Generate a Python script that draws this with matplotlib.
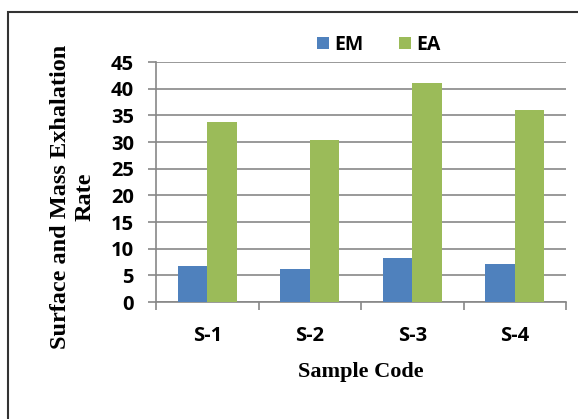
import matplotlib
matplotlib.use('Agg')
import matplotlib.pyplot as plt
import numpy as np
from matplotlib.patches import Rectangle

samples = ['S-1', 'S-2', 'S-3', 'S-4']
em_values = [6.8, 6.25, 8.25, 7.1]
ea_values = [33.75, 30.4, 41.05, 36.0]
y_ticks = [0, 5, 10, 15, 20, 25, 30, 35, 40, 45]

blue = '#4F81BD'
green = '#9BBB59'
grid_gray = '#878787'


def main():
    fig = plt.figure(figsize=(5.78, 4.19), dpi=100)
    ax = fig.add_axes([156 / 578, 117 / 419, 410 / 578, 240 / 419])

    x = np.arange(len(samples))
    w = 0.29
    ax.bar(x - w / 2, em_values, w, color=blue, label='EM', zorder=3)
    ax.bar(x + w / 2, ea_values, w, color=green, label='EA', zorder=3)

    ax.set_xlim(-0.5, len(samples) - 0.5)
    ax.set_ylim(0, 45)
    ax.set_yticks(y_ticks)
    ax.set_xticks(x)
    ax.set_xticklabels(samples)
    ax.set_xticks(np.arange(-0.5, len(samples)), minor=True)

    ax.grid(axis='y', color=grid_gray, linewidth=1.2, zorder=0)
    for s in ['top', 'right']:
        ax.spines[s].set_visible(False)
    for s in ['left', 'bottom']:
        ax.spines[s].set_color(grid_gray)
        ax.spines[s].set_linewidth(1.2)

    ax.tick_params(axis='y', length=6, width=1.2, color=grid_gray, pad=10,
                   labelsize=14.5)
    ax.tick_params(axis='x', which='major', length=0, pad=17, labelsize=14.5)
    ax.tick_params(axis='x', which='minor', length=6, width=1.2, color=grid_gray)
    for lbl in ax.get_xticklabels() + ax.get_yticklabels():
        lbl.set_fontfamily('Open Sans')
        lbl.set_fontweight('bold')

    ax.set_xlabel('Sample Code', fontfamily='Liberation Serif', fontweight='bold',
                  fontsize=16, labelpad=12)
    ax.set_ylabel('Surface and Mass Exhalation\nRate', fontfamily='Liberation Serif',
                  fontweight='bold', fontsize=17.5, linespacing=1.2)
    ax.yaxis.set_label_coords(-0.148, 0.44)

    fig.legend(loc='center', bbox_to_anchor=(379 / 578, 1 - 45 / 419), ncol=2,
               frameon=False, handlelength=0.6, handleheight=0.6, handletextpad=0.3,
               columnspacing=1.8,
               prop={'family': 'Open Sans', 'weight': 'bold', 'size': 14})

    fig.patches.append(Rectangle((8 / 578, -0.1), 1.0, 1 - 12 / 419 + 0.1,
                                 transform=fig.transFigure, fill=False,
                                 edgecolor='#333333', linewidth=1.5))

    fig.savefig('out.png', dpi=100)


main()
